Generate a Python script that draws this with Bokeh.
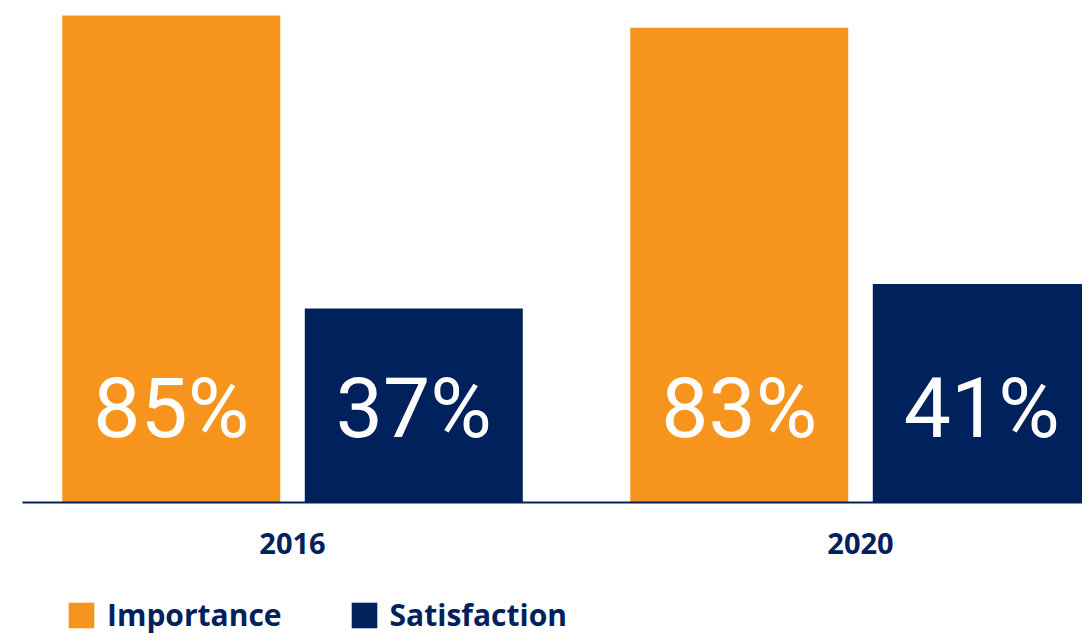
import numpy as np
from bokeh.plotting import figure
from bokeh.layouts import column
from bokeh.models import ColumnDataSource, Range1d, FixedTicker, Legend, LegendItem
from bokeh.core.properties import value
from bokeh.embed import file_html
from bokeh.resources import INLINE

years = ["2016", "2020"]
series = ["Importance", "Satisfaction"]
importance = [85, 83]
satisfaction = [37, 41]

ORANGE = "#F7941D"
NAVY = "#01215C"

idx = np.arange(len(years))
off = 0.2135
bw = 0.3838
label_y = 20.6

src_i = ColumnDataSource(dict(x=idx - off, top=importance,
                              lab=[f"{v}%" for v in importance],
                              ly=[label_y] * len(years)))
src_s = ColumnDataSource(dict(x=idx + off, top=satisfaction,
                              lab=[f"{v}%" for v in satisfaction],
                              ly=[label_y] * len(years)))

p = figure(width=1082, height=595, output_backend="svg", toolbar_location=None,
           x_range=Range1d(-0.4754, 1.3908), y_range=Range1d(5.22, 87.46),
           min_border_left=22, min_border_right=0, min_border_top=0,
           min_border_bottom=93)
p.outline_line_color = None
p.xgrid.visible = False
p.ygrid.visible = False
p.yaxis.visible = False

p.vbar(x="x", top="top", bottom=0, width=bw, source=src_i,
       fill_color=ORANGE, line_color=None)
p.vbar(x="x", top="top", bottom=0, width=bw, source=src_s,
       fill_color=NAVY, line_color=None)

for src in (src_i, src_s):
    p.text(x="x", y="ly", text="lab", source=src, text_color="white",
           text_font=value("Roboto"), text_font_size="84px",
           text_align="center", text_baseline="middle")

ax = p.xaxis[0]
ax.ticker = FixedTicker(ticks=list(idx))
ax.major_label_overrides = {int(i): y for i, y in zip(idx, years)}
ax.axis_line_color = NAVY
ax.axis_line_width = 2
ax.major_tick_line_color = None
ax.minor_tick_line_color = None
ax.major_label_standoff = 24
ax.major_label_text_font = "Open Sans"
ax.major_label_text_font_style = "bold"
ax.major_label_text_font_size = "29px"
ax.major_label_text_color = NAVY

# legend strip below the chart (zero-height swatch renderers, only used by the legend)
q = figure(width=1082, height=40, output_backend="svg", toolbar_location=None,
           x_range=Range1d(0, 1), y_range=Range1d(0, 1),
           x_axis_location=None, y_axis_location=None,
           min_border_left=22, min_border_right=0, min_border_top=0,
           min_border_bottom=0)
q.outline_line_color = None
q.background_fill_color = None
q.border_fill_color = None
q.xgrid.visible = False
q.ygrid.visible = False
l1 = q.vbar(x=[0.5], top=[0], bottom=[0], width=0.1, fill_color=ORANGE, line_color=None)
l2 = q.vbar(x=[0.5], top=[0], bottom=[0], width=0.1, fill_color=NAVY, line_color=None)

legend = Legend(items=[LegendItem(label=series[0], renderers=[l1]),
                       LegendItem(label=series[1], renderers=[l2])],
                location=(43, 0), orientation="horizontal",
                glyph_width=32, glyph_height=32, label_height=32,
                label_standoff=10, spacing=66, padding=0, margin=0,
                border_line_alpha=0, background_fill_alpha=0,
                label_text_font="Open Sans", label_text_font_style="bold",
                label_text_font_size="30px", label_text_color=NAVY)
q.add_layout(legend, "center")

layout = column(p, q, spacing=0)
open("out.html", "w").write(file_html(layout, INLINE))
